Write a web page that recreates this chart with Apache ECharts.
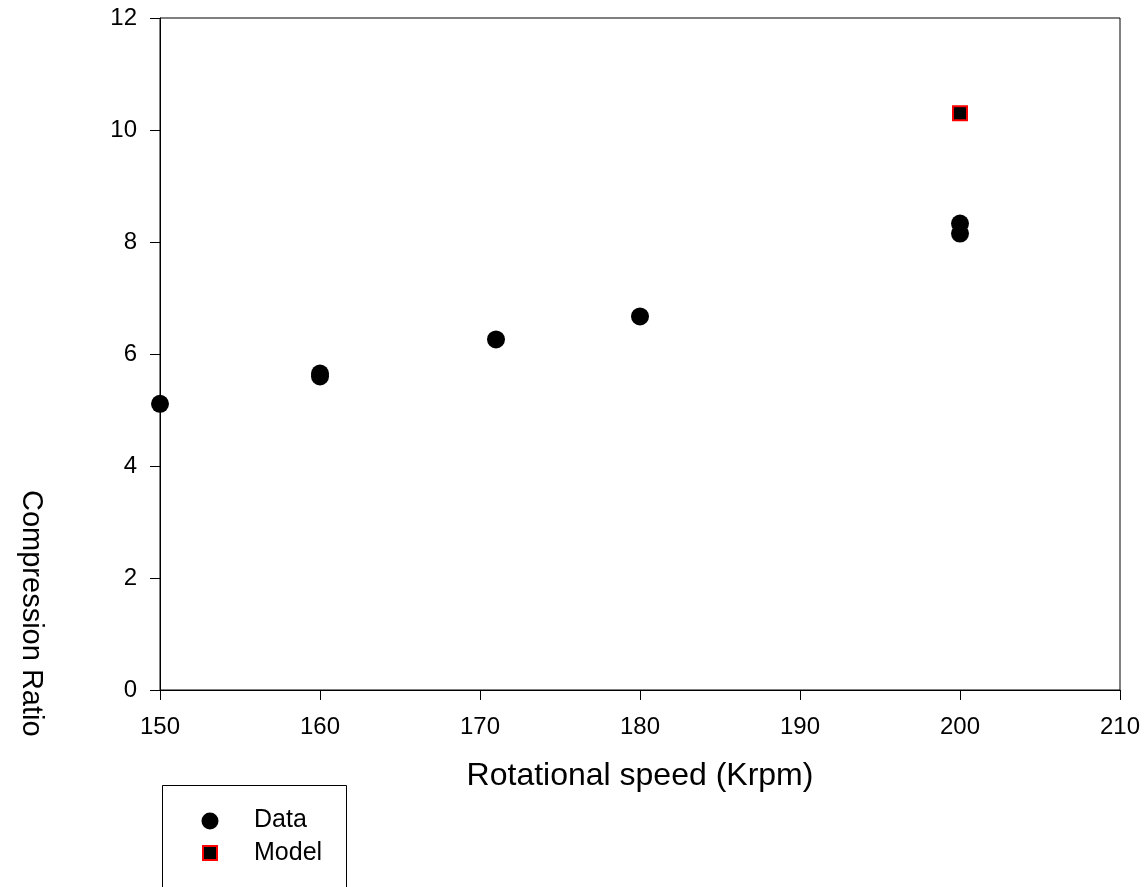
<!DOCTYPE html>
<html><head><meta charset="utf-8">
<script src="https://cdn.jsdelivr.net/npm/echarts@6/dist/echarts.min.js"></script>
<style>html,body{margin:0;padding:0;background:#fff}#c{width:1148px;height:887px}</style>
</head><body><div id="c"></div>
<script>
const dataX = [150, 160, 160, 171, 180, 200, 200];
const dataY = [5.11, 5.6, 5.65, 6.26, 6.67, 8.33, 8.15];
const modelX = [200];
const modelY = [10.3];
const xTicks = [150, 160, 170, 180, 190, 200, 210];
const yTicks = [0, 2, 4, 6, 8, 10, 12];

const chart = echarts.init(document.getElementById('c'));
const font = 'Arial, "Liberation Sans", sans-serif';
chart.setOption({
  animation: false,
  grid: {left: 160, top: 18, right: 28, bottom: 197, show: true, borderColor: '#000', borderWidth: 1},
  xAxis: {
    type: 'value', min: xTicks[0], max: xTicks[xTicks.length - 1], interval: 10,
    name: 'Rotational speed (Krpm)', nameLocation: 'middle', nameGap: 70,
    nameTextStyle: {fontSize: 32, color: '#000', fontFamily: font},
    axisLine: {lineStyle: {color: '#000', width: 1}},
    axisTick: {inside: false, length: 10, lineStyle: {color: '#000'}},
    axisLabel: {fontSize: 24, color: '#000', fontFamily: font, margin: 25},
    splitLine: {show: false}
  },
  yAxis: {
    type: 'value', min: yTicks[0], max: yTicks[yTicks.length - 1], interval: 2,
    axisLine: {show: true, lineStyle: {color: '#000', width: 1}},
    axisTick: {show: true, inside: false, length: 10, lineStyle: {color: '#000'}},
    axisLabel: {fontSize: 24, color: '#000', fontFamily: font, margin: 23},
    splitLine: {show: false}
  },
  series: [
    {name: 'Data', type: 'scatter', symbol: 'circle', symbolSize: 18,
     itemStyle: {color: '#000', opacity: 1}, data: dataX.map((x, i) => [x, dataY[i]])},
    {name: 'Model', type: 'scatter', symbol: 'rect', symbolSize: 14,
     itemStyle: {color: '#000', borderColor: '#ff0000', borderWidth: 2, opacity: 1},
     data: modelX.map((x, i) => [x, modelY[i]])}
  ],
  graphic: [
    {type: 'text', x: 31, y: 490, rotation: -Math.PI / 2,
     style: {text: 'Compression Ratio', font: '29px ' + font, fill: '#000', align: 'left', verticalAlign: 'middle'}},
    {type: 'rect', shape: {x: 162.5, y: 785.5, width: 184, height: 120},
     style: {fill: 'none', stroke: '#000', lineWidth: 1}},
    {type: 'circle', shape: {cx: 210, cy: 821, r: 8.5}, style: {fill: '#000'}},
    {type: 'text', x: 254, y: 820, style: {text: 'Data', font: '25px ' + font, fill: '#000', verticalAlign: 'middle'}},
    {type: 'rect', shape: {x: 203, y: 846, width: 14, height: 14},
     style: {fill: '#000', stroke: '#ff0000', lineWidth: 2}},
    {type: 'text', x: 254, y: 853, style: {text: 'Model', font: '25px ' + font, fill: '#000', verticalAlign: 'middle'}}
  ]
});
</script></body></html>
